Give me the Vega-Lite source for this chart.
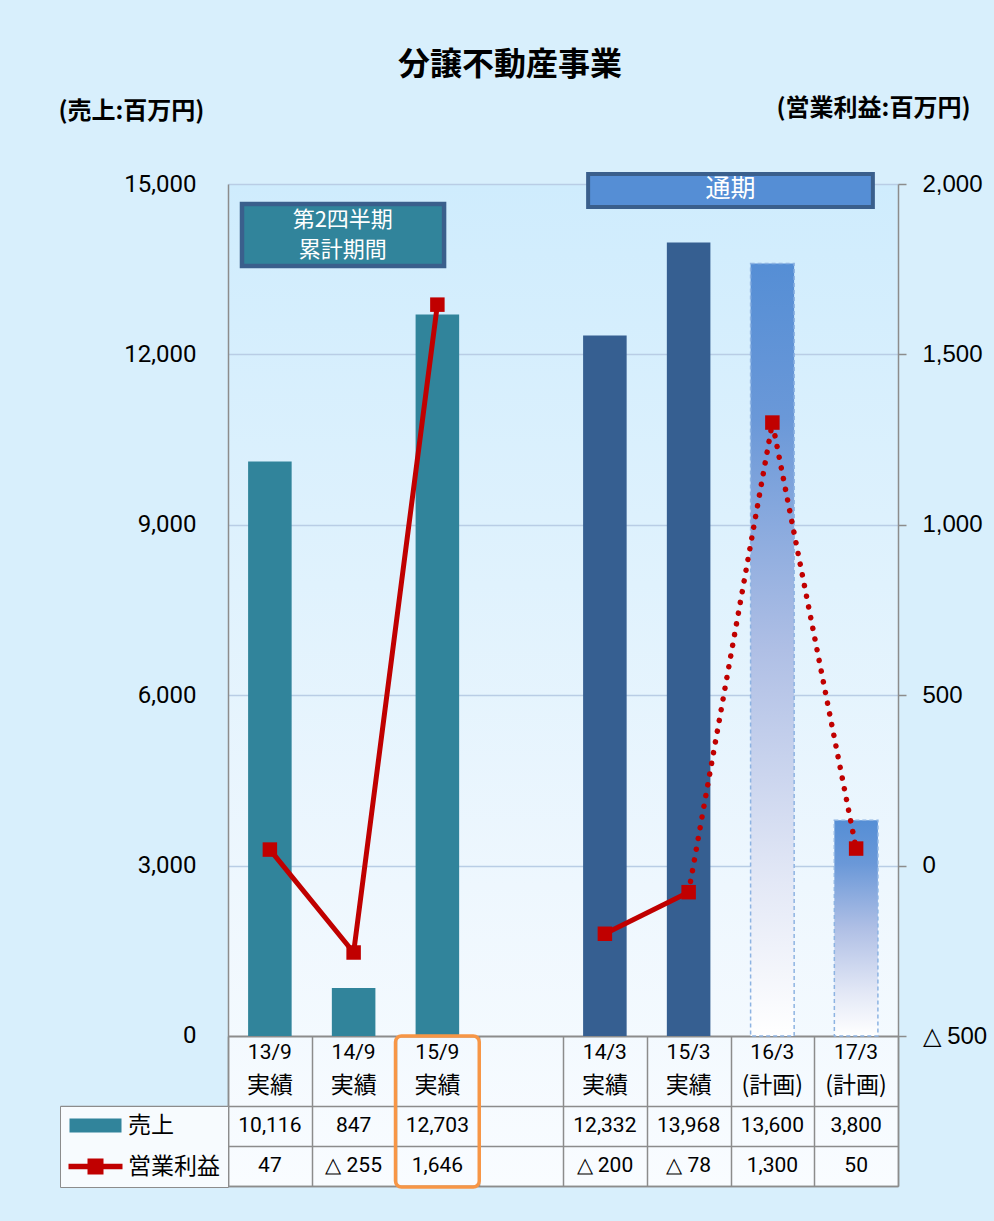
{
  "$schema": "https://vega.github.io/schema/vega-lite/v6.json",
  "width": 670,
  "height": 1002,
  "autosize": {"type": "none"},
  "padding": {"left": 228, "top": 184, "right": 96, "bottom": 35},
  "background": "#D8EFFC",
  "title": {
    "text": "分譲不動産事業",
    "font": "Noto Sans CJK JP",
    "fontSize": 32,
    "fontWeight": "bold",
    "color": "#000000",
    "anchor": "middle",
    "frame": "group",
    "dx": -53,
    "offset": 14
  },
  "config": {
    "font": "Noto Sans CJK JP",
    "view": {
      "stroke": null,
      "fill": {
        "gradient": "linear", "x1": 0, "y1": 0, "x2": 0, "y2": 1,
        "stops": [
          {"offset": 0, "color": "#CFECFD"},
          {"offset": 0.4, "color": "#E0F2FD"},
          {"offset": 0.7, "color": "#EEF7FE"},
          {"offset": 1, "color": "#F9FCFF"}
        ]
      }
    }
  },
  "data": {
    "values": [
      {"cat": "13/9", "kind": "実績", "period": "q2", "sales": 10116, "profit": 47},
      {"cat": "14/9", "kind": "実績", "period": "q2", "sales": 847, "profit": -255},
      {"cat": "15/9", "kind": "実績", "period": "q2", "sales": 12703, "profit": 1646},
      {"cat": "14/3", "kind": "実績", "period": "fy", "sales": 12332, "profit": -200},
      {"cat": "15/3", "kind": "実績", "period": "fy", "sales": 13968, "profit": -78},
      {"cat": "16/3", "kind": "(計画)", "period": "plan", "sales": 13600, "profit": 1300},
      {"cat": "17/3", "kind": "(計画)", "period": "plan", "sales": 3800, "profit": 50}
    ]
  },
  "transform": [
    {"calculate": "datum.profit < 0 ? '△ ' + format(-datum.profit, ',') : format(datum.profit, ',')", "as": "profitText"}
  ],
  "layer": [
    {
      "layer": [
        {
          "transform": [{"filter": "datum.period === 'q2'"}],
          "mark": {"type": "bar", "color": "#31849B", "width": {"band": 0.52}},
          "encoding": {
            "x": {
              "field": "cat", "type": "nominal",
              "scale": {"domain": ["13/9", "14/9", "15/9", "gap", "14/3", "15/3", "16/3", "17/3"], "paddingInner": 0, "paddingOuter": 0},
              "axis": {
                "orient": "bottom", "title": null, "labels": false, "grid": false,
                "tickBand": "extent", "tickSize": -150, "tickColor": "#8C8C8C", "tickWidth": 1.5,
                "domainColor": "#8C8C8C", "domainWidth": 1.5
              }
            },
            "y": {
              "field": "sales", "type": "quantitative",
              "scale": {"domain": [-2640.85, 15000], "nice": false, "zero": false},
              "axis": {
                "orient": "left",
                "values": [0, 3000, 6000, 9000, 12000, 15000, -1232.4, -1936.6, -2640.85],
                "labelExpr": "datum.value >= 0 ? format(datum.value, ',') : ''",
                "labelFont": "Roboto", "labelFontSize": 24, "labelColor": "#000000",
                "labelPadding": 32, "labelOverlap": false, "labelBound": false, "labelFlush": false,
                "tickSize": {"condition": {"test": "datum.value < 0", "value": 168}, "value": 0},
                "tickColor": "#8C8C8C", "tickWidth": 1.5,
                "domainColor": "#8C8C8C", "domainWidth": 1.5,
                "grid": true,
                "gridColor": {"condition": {"test": "datum.value <= 0", "value": "#8C8C8C"}, "value": "#B9CDE5"},
                "gridWidth": {"condition": {"test": "datum.value == 0", "value": 2}, "value": 1.5},
                "title": "(売上:百万円)", "titleAngle": 0, "titleAlign": "left", "titleBaseline": "middle",
                "titleX": -170, "titleY": -73,
                "titleFont": "Noto Sans CJK JP", "titleFontSize": 24, "titleFontWeight": "bold", "titleColor": "#000000"
              }
            },
            "y2": {"datum": 0}
          }
        },
        {
          "transform": [{"filter": "datum.period === 'fy'"}],
          "mark": {"type": "bar", "color": "#365F91", "width": {"band": 0.52}},
          "encoding": {
            "x": {"field": "cat", "type": "nominal", "scale": {"domain": ["13/9", "14/9", "15/9", "gap", "14/3", "15/3", "16/3", "17/3"], "paddingInner": 0, "paddingOuter": 0}},
            "y": {"field": "sales", "type": "quantitative", "scale": {"domain": [-2640.85, 15000], "nice": false, "zero": false}},
            "y2": {"datum": 0}
          }
        },
        {
          "transform": [{"filter": "datum.period === 'plan'"}],
          "mark": {
            "type": "bar", "width": {"band": 0.52},
            "fill": {
              "gradient": "linear", "x1": 0, "y1": 0, "x2": 0, "y2": 1,
              "stops": [
                {"offset": 0, "color": "#558ED5"},
                {"offset": 0.2, "color": "#6A98D8"},
                {"offset": 0.5, "color": "#AFBFE5"},
                {"offset": 0.8, "color": "#E3E8F6"},
                {"offset": 1, "color": "#FFFFFF"}
              ]
            },
            "stroke": "#8DB3E2", "strokeWidth": 1.5, "strokeDash": [4, 3]
          },
          "encoding": {
            "x": {"field": "cat", "type": "nominal", "scale": {"domain": ["13/9", "14/9", "15/9", "gap", "14/3", "15/3", "16/3", "17/3"], "paddingInner": 0, "paddingOuter": 0}},
            "y": {"field": "sales", "type": "quantitative", "scale": {"domain": [-2640.85, 15000], "nice": false, "zero": false}},
            "y2": {"datum": 0}
          }
        },
        {
          "mark": {"type": "text", "font": "Roboto", "fontSize": 21, "color": "#000000"},
          "encoding": {
            "x": {"field": "cat", "type": "nominal", "scale": {"domain": ["13/9", "14/9", "15/9", "gap", "14/3", "15/3", "16/3", "17/3"], "paddingInner": 0, "paddingOuter": 0}},
            "y": {"datum": -299, "type": "quantitative", "scale": {"domain": [-2640.85, 15000], "nice": false, "zero": false}},
            "text": {"field": "cat"}
          }
        },
        {
          "mark": {"type": "text", "font": "Noto Sans CJK JP", "fontSize": 23, "color": "#000000"},
          "encoding": {
            "x": {"field": "cat", "type": "nominal", "scale": {"domain": ["13/9", "14/9", "15/9", "gap", "14/3", "15/3", "16/3", "17/3"], "paddingInner": 0, "paddingOuter": 0}},
            "y": {"datum": -880, "type": "quantitative", "scale": {"domain": [-2640.85, 15000], "nice": false, "zero": false}},
            "text": {"field": "kind"}
          }
        },
        {
          "mark": {"type": "text", "font": "Roboto", "fontSize": 21, "color": "#000000"},
          "encoding": {
            "x": {"field": "cat", "type": "nominal", "scale": {"domain": ["13/9", "14/9", "15/9", "gap", "14/3", "15/3", "16/3", "17/3"], "paddingInner": 0, "paddingOuter": 0}},
            "y": {"datum": -1584.5, "type": "quantitative", "scale": {"domain": [-2640.85, 15000], "nice": false, "zero": false}},
            "text": {"field": "sales", "type": "quantitative", "format": ","}
          }
        },
        {
          "mark": {"type": "text", "font": "Roboto", "fontSize": 21, "color": "#000000"},
          "encoding": {
            "x": {"field": "cat", "type": "nominal", "scale": {"domain": ["13/9", "14/9", "15/9", "gap", "14/3", "15/3", "16/3", "17/3"], "paddingInner": 0, "paddingOuter": 0}},
            "y": {"datum": -2288.7, "type": "quantitative", "scale": {"domain": [-2640.85, 15000], "nice": false, "zero": false}},
            "text": {"field": "profitText"}
          }
        },
        {
          "data": {"values": [{"series": "売上"}, {"series": "営業利益"}]},
          "mark": {"type": "text", "text": ""},
          "encoding": {
            "x": {"datum": "13/9", "type": "nominal", "scale": {"domain": ["13/9", "14/9", "15/9", "gap", "14/3", "15/3", "16/3", "17/3"], "paddingInner": 0, "paddingOuter": 0}},
            "y": {"datum": 0, "type": "quantitative", "scale": {"domain": [-2640.85, 15000], "nice": false, "zero": false}},
            "color": {
              "field": "series", "type": "nominal",
              "scale": {"domain": ["売上", "営業利益"], "range": ["#31849B", "#C00000"]},
              "legend": {
                "orient": "none", "legendX": -168, "legendY": 922, "direction": "vertical", "title": null,
                "labelFont": "Noto Sans CJK JP", "labelFontSize": 23, "labelColor": "#000000",
                "labelOffset": 21, "labelLimit": 200,
                "symbolSize": 400, "rowPadding": 17, "padding": 8, "symbolOffset": 16,
                "symbolStrokeWidth": 0, "symbolOpacity": 1,
                "strokeColor": "#8C8C8C", "fillColor": "#F7FBFE",
                "encode": {
                  "symbols": {
                    "update": {
                      "shape": {"signal": "datum.value === '売上' ? 'M-2.6,-0.7H2.6V0.7H-2.6Z' : 'M-2.7,-0.27H2.7V0.27H-2.7Z M-0.8,-0.8H0.8V0.8H-0.8Z'"},
                      "strokeWidth": {"value": 0}
                    }
                  }
                }
              }
            }
          }
        },
        {
          "data": {"values": [{"focus": "15/9"}]},
          "mark": {"type": "rect", "fillOpacity": 0, "stroke": "#F79646", "strokeWidth": 3.5, "cornerRadius": 6},
          "encoding": {
            "x": {"field": "focus", "type": "nominal", "scale": {"domain": ["13/9", "14/9", "15/9", "gap", "14/3", "15/3", "16/3", "17/3"], "paddingInner": 0, "paddingOuter": 0}},
            "y": {"datum": 0, "type": "quantitative", "scale": {"domain": [-2640.85, 15000], "nice": false, "zero": false}},
            "y2": {"datum": -2658}
          }
        },
        {
          "data": {"values": [{"line1": "第2四半期", "line2": "累計期間"}]},
          "layer": [
            {
              "mark": {"type": "rect", "fill": "#31849B", "stroke": "#3A5F8C", "strokeWidth": 4.5},
              "encoding": {
                "x": {"datum": "13/9", "type": "nominal", "bandPosition": 0.167, "scale": {"domain": ["13/9", "14/9", "15/9", "gap", "14/3", "15/3", "16/3", "17/3"], "paddingInner": 0, "paddingOuter": 0}},
                "x2": {"datum": "15/9", "bandPosition": 0.58},
                "y": {"datum": 14648, "type": "quantitative", "scale": {"domain": [-2640.85, 15000], "nice": false, "zero": false}},
                "y2": {"datum": 13556}
              }
            },
            {
              "mark": {"type": "text", "color": "#FFFFFF", "font": "Noto Sans CJK JP", "fontSize": 22},
              "encoding": {
                "x": {"datum": "14/9", "type": "nominal", "bandPosition": 0.37, "scale": {"domain": ["13/9", "14/9", "15/9", "gap", "14/3", "15/3", "16/3", "17/3"], "paddingInner": 0, "paddingOuter": 0}},
                "y": {"datum": 14366, "type": "quantitative", "scale": {"domain": [-2640.85, 15000], "nice": false, "zero": false}},
                "text": {"field": "line1"}
              }
            },
            {
              "mark": {"type": "text", "color": "#FFFFFF", "font": "Noto Sans CJK JP", "fontSize": 22},
              "encoding": {
                "x": {"datum": "14/9", "type": "nominal", "bandPosition": 0.37, "scale": {"domain": ["13/9", "14/9", "15/9", "gap", "14/3", "15/3", "16/3", "17/3"], "paddingInner": 0, "paddingOuter": 0}},
                "y": {"datum": 13838, "type": "quantitative", "scale": {"domain": [-2640.85, 15000], "nice": false, "zero": false}},
                "text": {"field": "line2"}
              }
            }
          ]
        },
        {
          "data": {"values": [{"label": "通期"}]},
          "layer": [
            {
              "mark": {"type": "rect", "fill": "#558ED5", "stroke": "#3A5F8C", "strokeWidth": 4},
              "encoding": {
                "x": {"datum": "14/3", "type": "nominal", "bandPosition": 0.30, "scale": {"domain": ["13/9", "14/9", "15/9", "gap", "14/3", "15/3", "16/3", "17/3"], "paddingInner": 0, "paddingOuter": 0}},
                "x2": {"datum": "17/3", "bandPosition": 0.70},
                "y": {"datum": 15176, "type": "quantitative", "scale": {"domain": [-2640.85, 15000], "nice": false, "zero": false}},
                "y2": {"datum": 14595}
              }
            },
            {
              "mark": {"type": "text", "color": "#FFFFFF", "font": "Noto Sans CJK JP", "fontSize": 25},
              "encoding": {
                "x": {"datum": "16/3", "type": "nominal", "bandPosition": 0, "scale": {"domain": ["13/9", "14/9", "15/9", "gap", "14/3", "15/3", "16/3", "17/3"], "paddingInner": 0, "paddingOuter": 0}},
                "y": {"datum": 14912, "type": "quantitative", "scale": {"domain": [-2640.85, 15000], "nice": false, "zero": false}},
                "text": {"field": "label"}
              }
            }
          ]
        }
      ]
    },
    {
      "layer": [
        {
          "transform": [{"filter": "datum.period !== 'plan'"}],
          "mark": {"type": "line", "color": "#C00000", "strokeWidth": 5},
          "encoding": {
            "x": {"field": "cat", "type": "nominal", "scale": {"domain": ["13/9", "14/9", "15/9", "gap", "14/3", "15/3", "16/3", "17/3"], "paddingInner": 0, "paddingOuter": 0}},
            "y": {
              "field": "profit", "type": "quantitative",
              "scale": {"domain": [-940.14, 2000], "nice": false, "zero": false},
              "axis": {
                "orient": "right",
                "values": [-500, 0, 500, 1000, 1500, 2000],
                "labelExpr": "datum.value < 0 ? '△ ' + format(-datum.value, ',') : format(datum.value, ',')",
                "labelFont": "Liberation Sans", "labelFontSize": 24, "labelColor": "#000000",
                "labelPadding": 16, "labelOverlap": false, "labelBound": false, "labelFlush": false,
                "tickSize": 8, "tickColor": "#8C8C8C", "tickWidth": 1.5,
                "domainColor": "#8C8C8C", "domainWidth": 1.5, "grid": false,
                "title": "(営業利益:百万円)", "titleAngle": 0, "titleAlign": "right", "titleBaseline": "middle",
                "titleX": 72, "titleY": -76,
                "titleFont": "Noto Sans CJK JP", "titleFontSize": 24, "titleFontWeight": "bold", "titleColor": "#000000"
              }
            },
            "detail": {"field": "period"}
          }
        },
        {
          "transform": [{"filter": {"field": "cat", "oneOf": ["15/3", "16/3", "17/3"]}}],
          "mark": {"type": "line", "color": "#C00000", "strokeWidth": 5.5, "strokeDash": [0.1, 10.8], "strokeCap": "round"},
          "encoding": {
            "x": {"field": "cat", "type": "nominal", "scale": {"domain": ["13/9", "14/9", "15/9", "gap", "14/3", "15/3", "16/3", "17/3"], "paddingInner": 0, "paddingOuter": 0}},
            "y": {"field": "profit", "type": "quantitative", "scale": {"domain": [-940.14, 2000], "nice": false, "zero": false}}
          }
        },
        {
          "mark": {"type": "point", "shape": "square", "filled": true, "size": 210, "color": "#C00000", "opacity": 1},
          "encoding": {
            "x": {"field": "cat", "type": "nominal", "scale": {"domain": ["13/9", "14/9", "15/9", "gap", "14/3", "15/3", "16/3", "17/3"], "paddingInner": 0, "paddingOuter": 0}},
            "y": {"field": "profit", "type": "quantitative", "scale": {"domain": [-940.14, 2000], "nice": false, "zero": false}}
          }
        }
      ]
    }
  ],
  "resolve": {"scale": {"y": "independent"}}
}
